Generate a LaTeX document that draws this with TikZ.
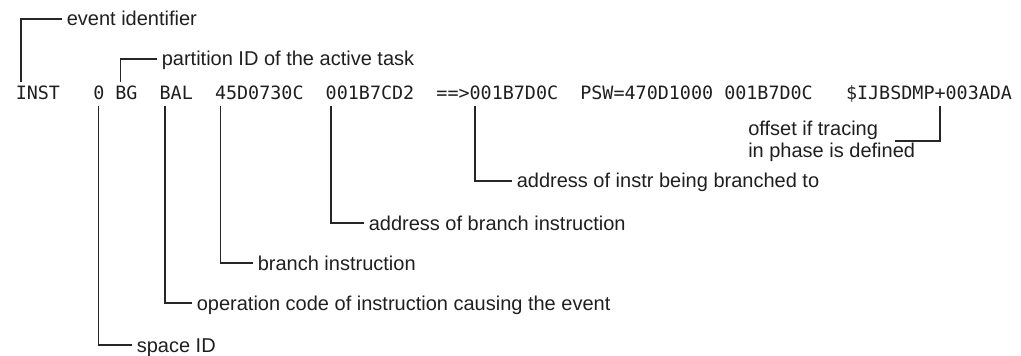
\documentclass[tikz,border=0pt]{standalone}
\usepackage{fontspec}
\setmainfont{Liberation Sans}
\newfontfamily\monofont{DejaVu Sans Mono}
\begin{document}
\begin{tikzpicture}[x=0.75pt,y=-0.75pt,
  tok/.style={font=\monofont\fontsize{13.79pt}{16pt}\selectfont, inner sep=0pt, anchor=base west, text=black!88},
  lab/.style={font=\fontsize{15pt}{16.5pt}\selectfont, inner sep=0pt, outer sep=3.6pt, text height=10.5pt, text depth=0pt, anchor=west, text=black!88},
  multilab/.style={font=\fontsize{15pt}{16.5pt}\selectfont, inner sep=0pt, align=left, anchor=north west, text=black!88},
  conn/.style={draw=black!85, line width=1.1pt}]
\useasboundingbox (0,0) rectangle (1021,356);
% the traced line
\node[tok] (t1)  at ({15.5+11.07*0},100)  {INST};
\node[tok] (t2)  at ({15.5+11.07*7},100)  {0};
\node[tok] (t3)  at ({15.5+11.07*9},100)  {BG};
\node[tok] (t4)  at ({15.5+11.07*13},100) {BAL};
\node[tok] (t5)  at ({15.5+11.07*18},100) {45D0730C};
\node[tok] (t6)  at ({15.5+11.07*28},100) {001B7CD2};
\node[tok] (t7)  at ({15.5+11.07*38},100) {==>001B7D0C};
\node[tok] (t8)  at ({15.5+11.07*51},100) {PSW=470D1000};
\node[tok] (t9)  at ({15.5+11.07*64},100) {001B7D0C};
\node[tok] (t10) at ({15.5+11.07*75},100) {\$IJBSDMP+003ADA};
% tick points
\coordinate (cEvent) at ({21.03+11.07*0},82);
\coordinate (cPart)  at ({21.03+11.07*9},82);
\coordinate (cSpace) at ({21.03+11.07*7},106);
\coordinate (cOp)    at ({21.03+11.07*13},106);
\coordinate (cBr)    at ({21.03+11.07*18},106);
\coordinate (cAddr)  at ({21.03+11.07*28},106);
\coordinate (cInstr) at ({21.03+11.07*41},106);
\coordinate (cOff)   at ({21.03+11.07*83},106);
\coordinate (cOffEnd) at (895,141);
% labels
\node[lab] (lEvent) at (62,19)  {event identifier};
\node[lab] (lPart)  at (157,59) {partition ID of the active task};
\node[lab] (lSpace) at (132,345) {space ID};
\node[lab] (lOp)    at (192,303) {operation code of instruction causing the event};
\node[lab] (lBr)    at (253,263) {branch instruction};
\node[lab] (lAddr)  at (364,223) {address of branch instruction};
\node[lab] (lInstr) at (512,181) {address of instr being branched to};
\node[multilab] (lOff) at (748,120.4) {offset if tracing\\in phase is defined};
% connectors
\draw[conn] (cEvent) |- (lEvent.west);
\draw[conn] (cPart)  |- (lPart.west);
\draw[conn] (cSpace) |- (lSpace.west);
\draw[conn] (cOp)    |- (lOp.west);
\draw[conn] (cBr)    |- (lBr.west);
\draw[conn] (cAddr)  |- (lAddr.west);
\draw[conn] (cInstr) |- (lInstr.west);
\draw[conn] (cOff)   |- (cOffEnd);
\end{tikzpicture}
\end{document}
